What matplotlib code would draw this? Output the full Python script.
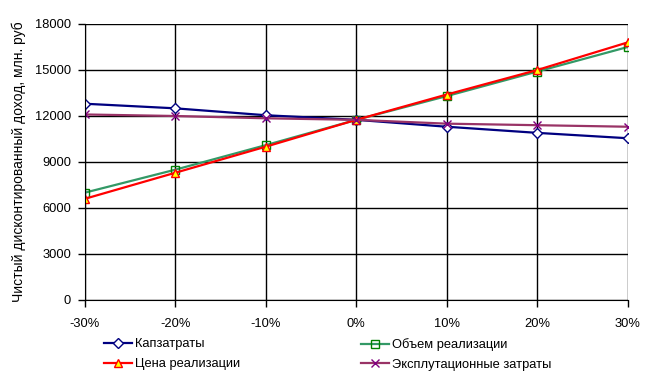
import matplotlib
matplotlib.use("Agg")
import matplotlib.pyplot as plt
from matplotlib.ticker import FuncFormatter

plt.rcParams['font.family'] = ['Liberation Sans', 'DejaVu Sans']

changes = [-30, -20, -10, 0, 10, 20, 30]
capex = [12800, 12500, 12050, 11750, 11300, 10900, 10550]
volume = [7000, 8500, 10100, 11750, 13300, 14900, 16500]
price = [6600, 8300, 10000, 11750, 13400, 15000, 16800]
opex = [12100, 12000, 11850, 11750, 11500, 11400, 11300]

names = ["Капзатраты", "Объем реализации", "Цена реализации", "Эксплутационные затраты"]
ylabel = "Чистый дисконтированный доход, млн. руб"

fig = plt.figure(figsize=(6.58, 3.75), dpi=100)
ax = fig.add_axes([0.129, 0.2, 0.825, 0.736])

l1, = ax.plot(changes, capex, color='#000080', lw=1.6, marker='D', ms=5,
              mfc='white', mec='#000080', mew=1.0, label=names[0])
l2, = ax.plot(changes, volume, color='#339966', lw=1.6, marker='s', ms=6,
              mfc='none', mec='#008000', mew=1.0, label=names[1])
l3, = ax.plot(changes, price, color='#FF0000', lw=1.6, marker='^', ms=5.5,
              mfc='#FFFF00', mec='#FF0000', mew=1.0, label=names[2])
l4, = ax.plot(changes, opex, color='#993366', lw=1.6, marker='x', ms=6,
              mec='#800080', mew=1.0, label=names[3])

ax.set_xlim(-30, 30)
ax.set_ylim(0, 18000)
ax.set_xticks(changes)
ax.xaxis.set_major_formatter(FuncFormatter(lambda v, p: f"{int(round(v))}%"))
ax.set_yticks(range(0, 18001, 3000))
ax.grid(True, color='black', lw=1.0)
ax.set_axisbelow(True)
for s in ['top', 'right']:
    ax.spines[s].set_visible(False)
ax.spines['left'].set_color('black')
ax.spines['bottom'].set_color('black')
ax.tick_params(axis='both', labelsize=9.3, length=5, width=1, color='black')
ax.tick_params(axis='x', pad=8)
ax.tick_params(axis='y', pad=5)
ax.set_ylabel(ylabel, fontsize=10, labelpad=6)

common = dict(loc='upper left', frameon=False, fontsize=9.3, handlelength=2.2,
              handletextpad=0.2, labelspacing=0.6, borderpad=0, borderaxespad=0)
fig.legend([l1, l3], [names[0], names[2]],
           bbox_to_anchor=(0.158, 0.098), **common)
fig.legend([l2, l4], [names[1], names[3]],
           bbox_to_anchor=(0.548, 0.098), **common)

fig.savefig("out.png", dpi=100)
